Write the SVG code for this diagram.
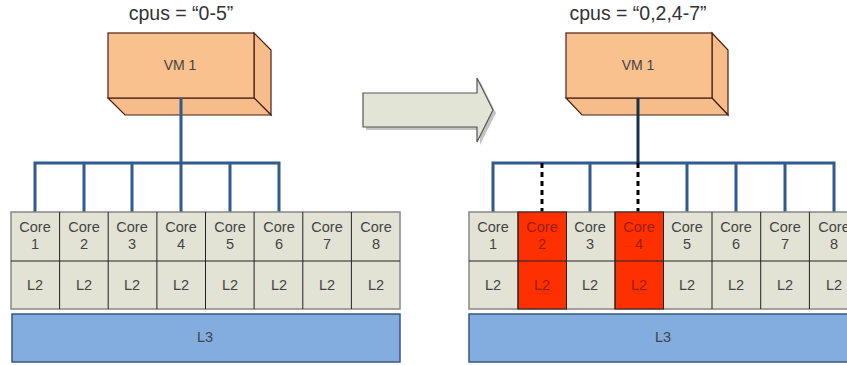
<svg xmlns="http://www.w3.org/2000/svg" width="847" height="365" viewBox="0 0 847 365">
<style>
.t{font-family:"Liberation Sans",Arial,sans-serif;fill:#444;text-anchor:middle}
.title{font-size:19.5px;fill:#333}
.cell{fill:#e2e3d5;stroke:#222;stroke-width:1}
.red{fill:#ff3000;stroke:#222;stroke-width:1}
.rt{fill:#9e1e0c}
.ct{font-size:14.5px}
.vmf{fill:#f9c18e;stroke:#4a1f14;stroke-width:1.2}
.vms{fill:#f6bc89;stroke:#4a1f14;stroke-width:1.2}
.l3{fill:#83acdf;stroke:#3a5780;stroke-width:1.5}
.bus{stroke:#2f5b8e;stroke-width:3;fill:none}
.dash{stroke:#000;stroke-width:3;stroke-dasharray:5 4;fill:none}
</style>
<text class="t title" x="181" y="20">cpus = “0-5”</text>
<text class="t title" x="638" y="20">cpus = “0,2,4-7”</text>
<g id="vm-left">
<polygon class="vms" points="254,33 271,50 271,115 254,98"/>
<polygon class="vms" points="108,98 254,98 271,115 125,115"/>
<rect class="vmf" x="108" y="33" width="146" height="65"/>
<text class="t" x="180" y="70" font-size="14">VM 1</text>
</g>
<g id="vm-right">
<polygon class="vms" points="712,33 728,50 728,115 712,98"/>
<polygon class="vms" points="566,98 712,98 728,115 582,115"/>
<rect class="vmf" x="566" y="33" width="146" height="65"/>
<text class="t" x="638" y="70" font-size="14">VM 1</text>
</g>
<g id="arrow">
<polygon points="365,95 479,95 479,80 495,112 479,144 479,129 365,129" fill="#888" opacity="0.5" transform="translate(1,1)"/>
<polygon points="363,93 477,93 477,78 493,110 477,142 477,127 363,127" fill="#e2e4d6" stroke="#555" stroke-width="1.2"/>
</g>
<g id="connectors">
<path class="bus" d="M181,98 V163 M35,212 V163 H279 V212 M84,163 V212 M132,163 V212 M181,163 V212 M230,163 V212"/>
<path class="bus" d="M493,212 V163 H834 V212 M590,163 V212 M687,163 V212 M736,163 V212 M785,163 V212"/>
<path d="M638,98 V163" stroke="#15314f" stroke-width="3" fill="none"/>
<path class="dash" d="M542,163 V212 M638,163 V212"/>
</g>
<g id="cores-left">
<rect x="11" y="212" width="389" height="97" fill="#e2e3d5" stroke="#888" stroke-width="1.5"/>
<path d="M59.6,212 V309 M108.2,212 V309 M156.9,212 V309 M205.5,212 V309 M254.1,212 V309 M302.8,212 V309 M351.4,212 V309 M11,261 H400" stroke="#222" stroke-width="1"/>
<g class="t ct">
<text x="35" y="232">Core</text><text x="35" y="249">1</text>
<text x="84" y="232">Core</text><text x="84" y="249">2</text>
<text x="132" y="232">Core</text><text x="132" y="249">3</text>
<text x="181" y="232">Core</text><text x="181" y="249">4</text>
<text x="230" y="232">Core</text><text x="230" y="249">5</text>
<text x="279" y="232">Core</text><text x="279" y="249">6</text>
<text x="327" y="232">Core</text><text x="327" y="249">7</text>
<text x="376" y="232">Core</text><text x="376" y="249">8</text>
<text x="35" y="290">L2</text><text x="84" y="290">L2</text><text x="132" y="290">L2</text><text x="181" y="290">L2</text>
<text x="230" y="290">L2</text><text x="279" y="290">L2</text><text x="327" y="290">L2</text><text x="376" y="290">L2</text>
</g>
</g>
<g id="l3-left">
<rect class="l3" x="12" y="314" width="388" height="48"/>
<text class="t ct" x="205" y="342">L3</text>
</g>
<g id="cores-right">
<rect x="469" y="212" width="390" height="97" fill="#e2e3d5" stroke="#888" stroke-width="1.5"/>
<rect class="red" x="518" y="212" width="48.5" height="97"/>
<rect class="red" x="615" y="212" width="48.5" height="97"/>
<path d="M518,212 V309 M566.5,212 V309 M615,212 V309 M663.5,212 V309 M712,212 V309 M760.7,212 V309 M809.4,212 V309 M469,261 H847" stroke="#222" stroke-width="1"/>
<g class="t ct">
<text x="493" y="232">Core</text><text x="493" y="249">1</text>
<text class="rt" x="542" y="232">Core</text><text class="rt" x="542" y="249">2</text>
<text x="590" y="232">Core</text><text x="590" y="249">3</text>
<text class="rt" x="639" y="232">Core</text><text class="rt" x="639" y="249">4</text>
<text x="687" y="232">Core</text><text x="687" y="249">5</text>
<text x="736" y="232">Core</text><text x="736" y="249">6</text>
<text x="785" y="232">Core</text><text x="785" y="249">7</text>
<text x="834" y="232">Core</text><text x="834" y="249">8</text>
<text x="493" y="290">L2</text><text class="rt" x="542" y="290">L2</text><text x="590" y="290">L2</text><text class="rt" x="639" y="290">L2</text>
<text x="687" y="290">L2</text><text x="736" y="290">L2</text><text x="785" y="290">L2</text><text x="834" y="290">L2</text>
</g>
</g>
<g id="l3-right">
<rect class="l3" x="469" y="314" width="390" height="48"/>
<text class="t ct" x="663" y="342">L3</text>
</g>
</svg>
